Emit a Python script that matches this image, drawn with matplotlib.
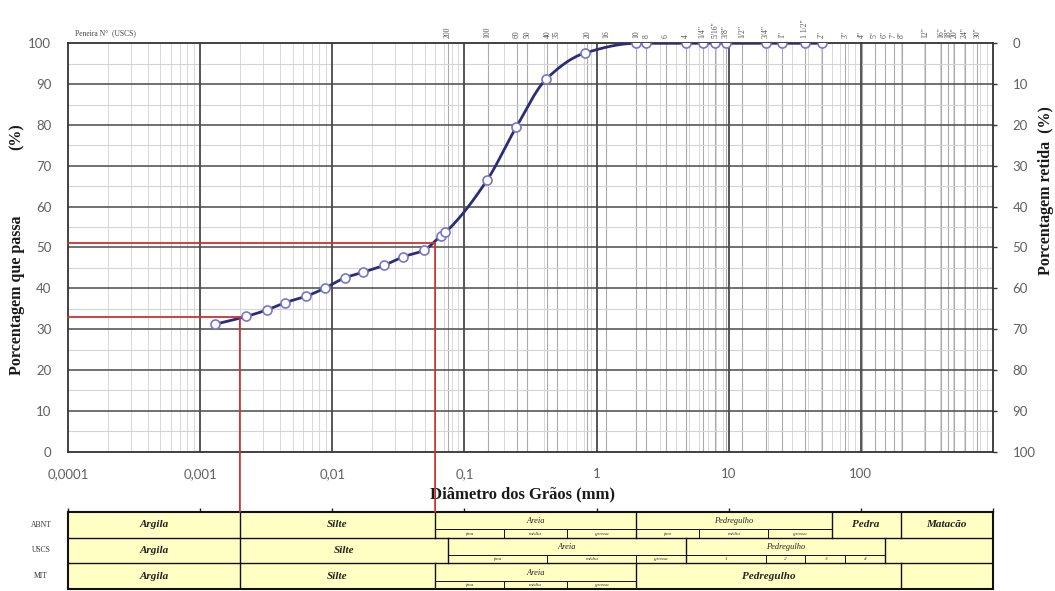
import numpy as np
import matplotlib.pyplot as plt
from matplotlib.patches import ConnectionPatch

# curva granulometrica (sedimentacao + peneiramento)
diametro = [0.0013, 0.00223, 0.0032, 0.0044, 0.00628, 0.00874, 0.01255, 0.0170, 0.0245,
            0.0343, 0.0492, 0.0667, 0.0717, 0.1485, 0.247, 0.415, 0.814,
            2.0, 2.38, 4.76, 6.35, 7.94, 9.5, 19.1, 25.4, 38.1, 50.8]
passa = [31.2, 33.1, 34.7, 36.5, 38.0, 40.0, 42.6, 43.9, 45.6,
         47.7, 49.3, 52.9, 53.7, 66.5, 79.5, 91.2, 97.6,
         100, 100, 100, 100, 100, 100, 100, 100, 100, 100]

# linhas de leitura (vermelhas)
d_leitura = [0.002, 0.06]
p_leitura = [33.0, 51.1]

# peneiras (escala superior)
peneira_txt = ['200', '100', '60', '50', '40', '35', '20', '16', '10', '8', '6', '4',
               '1/4"', '5/16"', '3/8"', '1/2"', '3/4"', '1"', '1 1/2"', '2"', '3"', '4"',
               '5"', '6"', '7"', '8"', '12"', '16"', '18"', '20"', '24"', '30"']
peneira_mm = [0.075, 0.15, 0.25, 0.30, 0.425, 0.50, 0.85, 1.18, 2.0, 2.38, 3.35, 4.76,
              6.35, 7.94, 9.5, 12.7, 19.1, 25.4, 38.1, 50.8, 76.2, 101.6,
              127, 152.4, 177.8, 203.2, 304.8, 406.4, 457.2, 508, 609.6, 762]

x_ticks = [1e-4, 1e-3, 1e-2, 1e-1, 1, 10, 100]
x_labels = ['0,0001', '0,001', '0,01', '0,1', '1', '10', '100']

# escalas de classificacao
abnt_lim = [1e-4, 0.002, 0.06, 2.0, 60, 200, 1000]
abnt_nome = ['Argila', 'Silte', 'Areia', 'Pedregulho', 'Pedra', 'Matacão']
abnt_sub = {2: ([0.06, 0.2, 0.6, 2.0], ['fina', 'média', 'grossa']),
            3: ([2.0, 6.0, 20, 60], ['fino', 'médio', 'grosso'])}
uscs_lim = [1e-4, 0.002, 0.075, 4.75, 152, 1000]
uscs_nome = ['Argila', 'Silte', 'Areia', 'Pedregulho', '']
uscs_sub = {2: ([0.075, 0.425, 2.0, 4.75], ['fina', 'média', 'grossa']),
            3: ([4.75, 19, 38, 76, 152], ['1', '2', '3', '4'])}
mit_lim = [1e-4, 0.002, 0.06, 2.0, 200, 1000]
mit_nome = ['Argila', 'Silte', 'Areia', 'Pedregulho', '']
mit_sub = {2: ([0.06, 0.2, 0.6, 2.0], ['fina', 'média', 'grossa'])}
linhas = [('ABNT', abnt_lim, abnt_nome, abnt_sub),
          ('USCS', uscs_lim, uscs_nome, uscs_sub),
          ('MIT', mit_lim, mit_nome, mit_sub)]

serif = 'Liberation Serif'
W, H = 1055, 591


def pchip(x, y, xs):
    h = np.diff(x)
    d = np.diff(y) / h
    m = np.zeros_like(y)
    m[0], m[-1] = d[0], d[-1]
    for k in range(1, len(x) - 1):
        if d[k - 1] * d[k] > 0:
            w1 = 2 * h[k] + h[k - 1]
            w2 = h[k] + 2 * h[k - 1]
            m[k] = (w1 + w2) / (w1 / d[k - 1] + w2 / d[k])
    i = np.clip(np.searchsorted(x, xs) - 1, 0, len(x) - 2)
    t = (xs - x[i]) / h[i]
    h00 = 2 * t**3 - 3 * t**2 + 1
    h10 = t**3 - 2 * t**2 + t
    h01 = -2 * t**3 + 3 * t**2
    h11 = t**3 - t**2
    return h00 * y[i] + h10 * h[i] * m[i] + h01 * y[i + 1] + h11 * h[i] * m[i + 1]


fig = plt.figure(figsize=(W / 100, H / 100), dpi=100)
ax = fig.add_axes([68 / W, (H - 451.6) / H, 925 / W, 408.3 / H])
ax.set_xscale('log')
ax.set_xlim(1e-4, 1e3)
ax.set_ylim(0, 100)

# grade
for k in range(-4, 3):
    for m in range(2, 10):
        ax.axvline(m * 10.0**k, color='#d8d8d8', lw=0.7, zorder=1)
for s in peneira_mm:
    ax.axvline(s, color='#ababab', lw=0.8, zorder=1)
for k in range(-3, 3):
    ax.axvline(10.0**k, color='#3a3a3a', lw=1.2, zorder=2)
for v in range(5, 100, 10):
    ax.axhline(v, color='#d4d4d4', lw=0.8, zorder=1)
for v in range(10, 100, 10):
    ax.axhline(v, color='#4a4a4a', lw=1.1, zorder=2)

# curva
lx = np.log10(diametro)
xs = np.linspace(lx[0], lx[-1], 600)
ax.plot(10**xs, pchip(lx, np.array(passa, float), xs), color='#2c2c78', lw=2, zorder=4)
ax.plot(diametro, passa, 'o', mfc='white', mec='#7676cc', ms=6.5, mew=1.2, zorder=5)

for sp in ax.spines.values():
    sp.set_color('#333333')
    sp.set_linewidth(1.3)

ax.set_xticks(x_ticks)
ax.set_xticklabels(x_labels)
ax.xaxis.set_minor_locator(plt.NullLocator())
ax.set_yticks(range(0, 101, 10))
ax.tick_params(axis='x', length=0, pad=12, labelsize=9.5, labelcolor='#606060')
ax.tick_params(axis='y', length=0, pad=12, labelsize=9.5, labelcolor='#606060')
for t in ax.get_xticklabels() + ax.get_yticklabels():
    t.set_family('Lato')

ax2 = ax.twinx()
ax2.set_ylim(100, 0)
ax2.set_yticks(range(0, 101, 10))
ax2.tick_params(axis='y', length=3, width=1, color='#333333', pad=11,
                labelsize=9.5, labelcolor='#606060')
for t in ax2.get_yticklabels():
    t.set_family('Lato')
for sp in ax2.spines.values():
    sp.set_visible(False)

# escala das peneiras
ax.text(0.008, 1.015, 'Peneira N°  (USCS)', transform=ax.transAxes, fontsize=5.5,
        family=serif, color='#444444', va='bottom')
for s, t in zip(peneira_mm, peneira_txt):
    ax.text(s, 1.012, t, transform=ax.get_xaxis_transform(), rotation=90,
            fontsize=5.5, family=serif, color='#505050', ha='center', va='bottom')

# rotulos dos eixos
fig.text(523 / W, 1 - 494 / H, 'Diâmetro dos Grãos (mm)', ha='center', va='center',
         fontsize=12, fontweight='bold', family=serif, color='#1a1a1a')
fig.text(17 / W, 1 - 295 / H, 'Porcentagem que passa', rotation=90, ha='center',
         va='center', fontsize=11.5, fontweight='bold', family=serif, color='#1a1a1a')
fig.text(17 / W, 1 - 137 / H, '(%)', rotation=90, ha='center', va='center',
         fontsize=11.5, fontweight='bold', family=serif, color='#1a1a1a')
fig.text(1046 / W, 1 - 191 / H, 'Porcentagem retida  (%)', rotation=90, ha='center',
         va='center', fontsize=11.5, fontweight='bold', family=serif, color='#1a1a1a')

# tabela de classificacao
axt = fig.add_axes([68 / W, (H - 589) / H, 925 / W, 77 / H])
axt.set_xscale('log')
axt.set_xlim(1e-4, 1e3)
axt.set_ylim(3, 0)
axt.set_facecolor('#ffffc4')
axt.set_yticks([])
axt.xaxis.tick_top()
axt.set_xticks([1e-4, 1e-3, 1e-2, 1e-1, 1, 10, 100, 1000])
axt.set_xticklabels([])
axt.xaxis.set_minor_locator(plt.NullLocator())
axt.tick_params(axis='x', length=3, width=1, color='#222222')
for sp in axt.spines.values():
    sp.set_linewidth(1.5)
    sp.set_color('#111111')

split = 0.68
for r, (sigla, lim, nome, sub) in enumerate(linhas):
    fig.text(41 / W, axt.transData.transform((1, r + 0.5))[1] / H, sigla,
             ha='center', va='center', fontsize=5.5, family=serif, color='#333333')
    if r > 0:
        axt.plot([1e-4, 1e3], [r, r], color='#111111', lw=1)
    for j, nm in enumerate(nome):
        x0, x1 = lim[j], lim[j + 1]
        xc = 10 ** ((np.log10(x0) + np.log10(x1)) / 2)
        if j > 0:
            axt.plot([x0, x0], [r, r + 1], color='#111111', lw=1)
        if j in sub:
            bx, bt = sub[j]
            axt.plot([x0, x1], [r + split, r + split], color='#111111', lw=0.7)
            axt.text(xc, r + split / 2 + 0.02, nm, ha='center', va='center',
                     fontsize=6, style='italic', family=serif, color='#222222')
            for b in bx[1:-1]:
                axt.plot([b, b], [r + split, r + 1], color='#111111', lw=0.7)
            for a, b, t in zip(bx[:-1], bx[1:], bt):
                xm = 10 ** ((np.log10(a) + np.log10(b)) / 2)
                axt.text(xm, r + (1 + split) / 2, t, ha='center', va='center',
                         fontsize=3.8, style='italic', family=serif, color='#333333')
        elif nm:
            axt.text(xc, r + 0.5, nm, ha='center', va='center', fontsize=8,
                     style='italic', fontweight='bold', family=serif, color='#222222')

# linhas de leitura ligando o grafico a tabela
for d, p in zip(d_leitura, p_leitura):
    ax.plot([1e-4, d], [p, p], color='#cc3333', lw=1.3, zorder=6, clip_on=False)
    con = ConnectionPatch(xyA=(d, p), coordsA=ax.transData, xyB=(d, 0),
                          coordsB=axt.transData, color='#cc3333', lw=1.3, zorder=6)
    fig.add_artist(con)

fig.savefig('out.png', dpi=100)
